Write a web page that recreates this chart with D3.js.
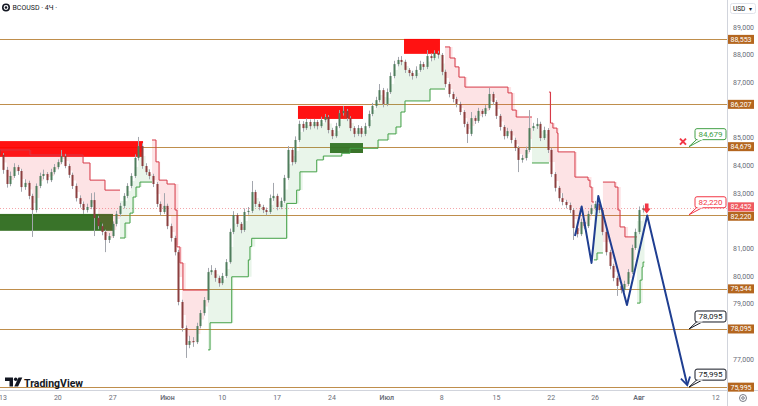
<!DOCTYPE html>
<html>
<head>
<meta charset="utf-8">
<script src="https://cdn.jsdelivr.net/npm/d3@7"></script>
<style>
html, body { margin: 0; padding: 0; background: #fff; }
svg { display: block; font-family: Roboto, "Noto Sans", "DejaVu Sans", sans-serif; }
</style>
</head>
<body>
<div id="chart"></div>
<script>
// ---- data ----
// candles: [open, high, low, close], 3 bars per trading day, first bar at day -1/3 (day 0 = 13 May)
const firstDay = -1 / 3;
const barsPerDay = 3;
const candles = [
  [84.56,84.92,84.25,84.38],[84.38,84.45,83.70,83.84],[83.84,83.95,83.20,83.33],[83.33,83.78,83.25,83.62],
  [83.62,84.08,83.55,83.94],[83.94,84.02,83.66,83.80],[83.80,83.88,83.05,83.22],[83.22,83.50,83.12,83.37],
  [83.37,83.45,82.78,82.90],[82.90,82.98,81.42,82.39],[82.39,83.35,82.30,83.26],[83.26,83.74,83.18,83.62],
  [83.62,83.85,83.50,83.69],[83.69,83.76,83.35,83.47],[83.47,83.88,83.40,83.76],[83.76,84.05,83.68,83.94],
  [83.94,84.22,83.86,84.12],[84.12,84.56,84.05,84.34],[84.34,84.42,83.90,83.98],[83.98,84.06,83.55,83.66],
  [83.66,83.74,83.15,83.26],[83.26,83.35,82.70,82.82],[82.82,82.92,82.48,82.61],[82.61,82.70,82.25,82.39],
  [82.39,82.62,82.30,82.50],[82.50,83.00,82.42,82.75],[82.75,83.03,81.45,82.10],[82.10,82.18,81.70,81.81],
  [81.81,81.90,81.48,81.60],[81.60,81.68,80.87,81.31],[81.31,81.56,81.20,81.45],[81.45,81.98,81.38,81.89],
  [81.89,82.36,81.80,82.25],[82.25,82.65,82.16,82.54],[82.54,83.00,82.45,82.90],[82.90,83.36,82.82,83.26],
  [83.26,83.72,83.18,83.62],[83.62,84.40,83.55,84.27],[84.27,85.03,84.18,84.70],[84.70,84.80,83.88,83.98],
  [83.98,84.08,83.66,83.76],[83.76,83.86,83.50,83.62],[83.62,83.70,83.22,83.33],[83.33,83.40,82.50,82.61],
  [82.61,82.70,82.20,82.32],[82.32,83.00,82.25,82.54],[82.54,82.62,81.70,81.81],[81.81,81.90,81.25,81.38],
  [81.38,81.46,80.75,80.87],[80.87,80.95,78.95,79.07],[79.07,79.15,78.00,78.13],[78.13,78.22,77.05,77.52],
  [77.52,77.85,77.40,77.66],[77.66,77.80,77.45,77.62],[77.62,78.32,77.55,78.20],[78.20,78.78,78.12,78.67],
  [78.67,79.25,78.58,79.14],[79.14,80.30,79.05,80.15],[80.15,80.40,80.05,80.22],[80.22,80.30,79.80,79.94],
  [79.94,80.02,79.62,79.75],[79.75,80.12,79.68,80.01],[80.01,80.62,79.94,80.51],[80.51,81.72,80.45,81.60],
  [81.60,82.35,81.52,82.21],[82.21,82.28,81.78,81.89],[81.89,81.96,81.55,81.67],[81.67,82.45,81.60,82.32],
  [82.32,82.50,82.22,82.36],[82.36,83.44,82.28,83.04],[83.04,83.12,82.50,82.61],[82.61,82.70,82.38,82.50],
  [82.50,82.58,82.28,82.39],[82.39,82.48,82.20,82.32],[82.32,82.95,82.25,82.82],[82.82,83.37,82.72,82.90],
  [82.90,82.98,82.38,82.50],[82.50,82.84,82.42,82.72],[82.72,83.66,82.65,83.55],[83.55,84.70,83.48,84.56],
  [84.56,84.64,84.00,84.12],[84.12,85.05,84.05,84.92],[84.92,85.62,84.85,85.50],[85.50,85.60,85.22,85.35],
  [85.35,85.70,85.28,85.57],[85.57,85.66,85.30,85.42],[85.42,85.68,85.34,85.57],[85.57,85.64,85.30,85.42],
  [85.42,85.76,85.35,85.64],[85.64,85.86,85.56,85.75],[85.75,85.82,85.16,85.28],[85.28,85.36,84.95,85.06],
  [85.06,85.54,85.00,85.42],[85.42,86.00,85.35,85.89],[85.89,86.15,85.80,85.97],[85.97,86.04,85.60,85.71],
  [85.71,85.78,85.24,85.35],[85.35,85.42,85.02,85.14],[85.14,85.46,85.06,85.35],[85.35,85.42,85.02,85.14],
  [85.14,85.54,85.06,85.42],[85.42,85.98,85.35,85.86],[85.86,86.26,85.78,86.15],[86.15,86.48,86.08,86.36],
  [86.36,86.94,86.28,86.72],[86.72,86.80,86.10,86.22],[86.22,86.78,86.14,86.65],[86.65,87.36,86.58,87.23],
  [87.23,87.78,87.15,87.66],[87.66,87.92,87.58,87.81],[87.81,87.95,87.62,87.74],[87.74,87.82,87.34,87.45],
  [87.45,87.52,87.22,87.34],[87.34,87.42,87.10,87.23],[87.23,87.58,87.15,87.45],[87.45,87.78,87.38,87.66],
  [87.66,87.74,87.45,87.56],[87.56,88.17,87.48,87.95],[87.95,88.05,87.76,87.88],[87.88,88.16,87.80,88.06],
  [88.06,88.14,87.86,87.99],[87.99,88.06,87.26,87.38],[87.38,87.46,86.82,86.94],[86.94,87.02,86.46,86.58],
  [86.58,86.66,86.28,86.40],[86.40,86.48,86.10,86.22],[86.22,86.30,85.82,85.93],[85.93,86.00,85.38,85.50],
  [85.50,85.58,84.81,85.14],[85.14,85.93,85.06,85.71],[85.71,85.80,85.50,85.61],[85.61,86.08,85.54,85.97],
  [85.97,86.04,85.74,85.86],[85.86,86.18,85.78,86.07],[86.07,86.80,86.00,86.58],[86.58,86.66,86.18,86.29],
  [86.29,86.36,85.68,85.79],[85.79,85.86,85.26,85.39],[85.39,85.46,84.94,85.06],[85.06,85.36,84.98,85.24],
  [85.24,85.30,84.80,84.92],[84.92,85.00,84.52,84.63],[84.63,84.70,83.76,84.20],[84.20,84.38,84.10,84.27],
  [84.27,84.68,84.18,84.56],[84.56,86.00,84.48,85.35],[85.35,85.54,85.25,85.42],[85.42,85.71,85.32,85.50],
  [85.50,85.58,84.88,84.99],[84.99,85.40,84.92,85.28],[85.28,85.35,84.45,84.56],[84.56,84.64,83.58,83.69],
  [83.69,83.76,83.06,83.19],[83.19,83.26,82.70,82.82],[82.82,83.00,82.56,82.68],[82.68,82.76,82.45,82.57],
  [82.57,82.66,82.28,82.39],[82.39,82.46,81.31,81.74],[81.74,81.82,81.40,81.52],[81.52,82.08,81.45,81.96],
  [81.96,82.04,81.70,81.81],[81.81,82.36,81.74,82.25],[82.25,82.58,82.18,82.46],[82.46,82.72,82.38,82.61],
  [82.61,82.68,82.28,82.39],[82.39,82.46,81.48,81.60],[81.60,81.68,80.75,80.87],[80.87,80.95,80.25,80.37],
  [80.37,80.45,79.82,79.94],[79.94,80.02,79.29,79.65],[79.65,79.72,79.38,79.50],[79.50,79.84,79.42,79.72],
  [79.72,80.26,79.65,80.15],[80.15,81.14,80.08,81.02],[81.02,81.72,80.95,81.60],[81.60,82.52,81.52,82.39],
  [82.39,82.56,82.30,82.45]
];

// trailing step line: [day, level] steps, dir 1 = below price (green), -1 = above price (red)
const trailSegments = [
  { dir: -1, end: 10.67, pts: [[-0.5,84.56],[2.46,84.38],[7.30,84.09],[7.93,83.47],[9.30,83.11]] },
  { dir: 1,  end: 13.59, pts: [[10.67,81.38],[11.13,81.92],[11.58,82.28],[11.86,82.86],[12.13,83.22],[12.49,83.40]] },
  { dir: -1, end: 18.70, pts: [[13.59,84.92],[13.95,84.13],[14.23,83.47],[14.96,83.33],[15.69,82.39],[15.87,81.06],[16.14,80.48],[16.41,79.50]] },
  { dir: 1,  end: 40.31, pts: [[18.70,77.34],[18.88,78.32],[20.86,79.98],[22.37,80.59],[22.52,81.07],[22.68,81.37],[25.87,82.63],[26.78,83.11],[27.08,83.77],[28.61,84.20],[29.21,84.34],[30.89,84.44],[31.64,84.62],[34.20,84.92],[35.11,85.14],[35.84,85.39],[36.29,85.93],[36.66,86.33],[38.94,86.76]] },
  { dir: -1, end: 48.24, pts: [[40.31,88.28],[40.76,87.88],[41.22,87.56],[41.58,87.19],[42.13,86.83],[46.05,86.62],[46.42,86.00],[46.80,85.75]] },
  { dir: 1,  end: 49.79, pts: [[48.24,84.09]] },
  { dir: -1, end: 53.89, pts: [[49.79,86.65],[49.93,85.53],[50.15,85.35],[50.52,85.17],[50.61,84.49],[52.16,83.58],[53.35,83.47],[53.53,83.22],[53.71,82.68]] },
  { dir: 1,  end: 54.71, pts: [[53.89,80.59],[54.17,80.84]] },
  { dir: -1, end: 57.82, pts: [[54.71,83.40],[55.81,83.22],[56.08,82.39],[56.27,81.78],[56.72,81.42]] },
  { dir: 1,  end: 58.50, pts: [[57.82,79.03],[58.10,79.86],[58.28,80.33],[58.37,80.51]] }
];

// supply / demand boxes: [dayFrom, dayTo, top, bottom]
const supplyZones = [[-0.5,12.77,84.88,84.31],[26.90,32.83,86.15,85.68],[36.57,39.85,88.57,88.03]];
const demandZones = [[-0.5,10.03,82.25,81.64],[29.82,32.83,84.81,84.45]];

const levels = [88.553, 86.207, 84.679, 82.220, 79.544, 78.095, 75.995];
const lastPrice = 82.452;

// projected path
const zigzag = [[52.16,81.45],[52.77,82.52],[53.67,80.48],[54.29,82.90],[56.90,78.96],[58.75,82.19],[62.40,76.07]];

const callouts = [
  { day: 62.56, value: 84.679, text: "84,679", color: "#43a047" },
  { day: 62.56, value: 82.220, text: "82,220", color: "#f23645" },
  { day: 62.56, value: 78.095, text: "78,095", color: "#131722" },
  { day: 62.56, value: 75.995, text: "75,995", color: "#131722" }
];
const crossMark = [62.01, 84.86];

const priceTicks = [89, 88, 87, 86, 85, 84, 83, 82, 81, 80, 79, 78, 77, 76];
const dayTicks = [0, 5, 10, 15, 20, 25, 30, 35, 40, 45, 50, 54, 58, 65];
const dayLabels = ["13", "20", "27", "Июн", "10", "17", "24", "Июл", "8", "15", "22", "26", "Авг", "12"];
const monthLabels = ["Июн", "Июл", "Авг"];

// ---- layout ----
const W = 758, H = 406;
const plotW = 727, plotH = 390;

const svg = d3.select("#chart").append("svg")
    .attr("width", W)
    .attr("height", H);

const x = d3.scaleLinear().domain([0, 58]).range([3, 639]);
const y = d3.scaleLinear().domain([76, 89]).range([387, 27]);

const fmt = v => v.toFixed(3).replace(".", ",");

svg.append("clipPath").attr("id", "plotClip")
    .append("rect").attr("width", plotW).attr("height", plotH);

const plot = svg.append("g").attr("clip-path", "url(#plotClip)");

const bars = candles.map((d, i) => ({ t: firstDay + i / barsPerDay, o: d[0], h: d[1], l: d[2], c: d[3] }));

// horizontal levels
plot.selectAll(".level").data(levels).enter().append("line")
    .attr("x1", 0).attr("x2", plotW)
    .attr("y1", d => Math.round(y(d)) + 0.5).attr("y2", d => Math.round(y(d)) + 0.5)
    .attr("stroke", "#bf8e4c").attr("stroke-width", 1);

// last price dotted line
plot.append("line")
    .attr("x1", 0).attr("x2", plotW)
    .attr("y1", Math.round(y(lastPrice)) + 0.5).attr("y2", Math.round(y(lastPrice)) + 0.5)
    .attr("stroke", "#f4a6aa").attr("stroke-width", 1).attr("stroke-dasharray", "1,2");

// zones
plot.selectAll(".supply").data(supplyZones).enter().append("rect")
    .attr("x", d => x(d[0])).attr("width", d => x(d[1]) - x(d[0]))
    .attr("y", d => y(d[2])).attr("height", d => y(d[3]) - y(d[2]))
    .attr("fill", "#ff0000").attr("opacity", 0.93);

plot.selectAll(".demand").data(demandZones).enter().append("rect")
    .attr("x", d => x(d[0])).attr("width", d => x(d[1]) - x(d[0]))
    .attr("y", d => y(d[2])).attr("height", d => y(d[3]) - y(d[2]))
    .attr("fill", "#2e6b1e").attr("opacity", 0.95);

// trail fills and lines
function levelAt(seg, t) {
    let v = seg.pts[0][1];
    seg.pts.forEach(p => { if (p[0] <= t) v = p[1]; });
    return v;
}

const fillArea = d3.area()
    .x(d => x(d.t)).y0(d => y(d.lv)).y1(d => y(d.mid))
    .curve(d3.curveStepAfter);

const stepLine = d3.line()
    .x(d => x(d[0])).y(d => y(d[1]))
    .curve(d3.curveStepAfter);

trailSegments.forEach(seg => {
    const t0 = seg.pts[0][0];
    const inside = bars.filter(b => b.t >= t0 && b.t <= seg.end);
    if (inside.length) {
        const rows = inside.map(b => ({ t: b.t, lv: levelAt(seg, b.t), mid: (b.o + b.c) / 2 }));
        rows.unshift({ t: t0, lv: seg.pts[0][1], mid: rows[0].mid });
        rows.push({ t: seg.end, lv: levelAt(seg, seg.end), mid: rows[rows.length - 1].mid });
        plot.append("path")
            .attr("d", fillArea(rows))
            .attr("fill", seg.dir < 0 ? "rgba(242,54,69,0.14)" : "rgba(76,175,80,0.12)");
    }
    const pts = seg.pts.concat([[seg.end, seg.pts[seg.pts.length - 1][1]]]);
    plot.append("path")
        .attr("d", stepLine(pts))
        .attr("fill", "none")
        .attr("stroke", seg.dir < 0 ? "#d63a48" : "#43a047")
        .attr("stroke-width", 1);
});

// candles
const cg = plot.append("g");
cg.selectAll(".wick").data(bars).enter().append("line")
    .attr("x1", d => Math.round(x(d.t)) + 0.5).attr("x2", d => Math.round(x(d.t)) + 0.5)
    .attr("y1", d => y(d.h)).attr("y2", d => y(d.l))
    .attr("stroke", "#a3a6ad").attr("stroke-width", 1);
cg.selectAll(".body").data(bars).enter().append("rect")
    .attr("x", d => Math.round(x(d.t)) - 0.5)
    .attr("width", 2)
    .attr("y", d => y(Math.max(d.o, d.c)))
    .attr("height", d => Math.max(1, Math.abs(y(d.o) - y(d.c))))
    .attr("fill", d => d.c >= d.o ? "#4f7d5c" : "#8b3f3f");

// projected zigzag
plot.append("path")
    .attr("d", d3.line().x(d => x(d[0])).y(d => y(d[1]))(zigzag))
    .attr("fill", "none").attr("stroke", "#1f3e91").attr("stroke-width", 2)
    .attr("stroke-linejoin", "round");

// arrow head at the end of the zigzag
const tip = zigzag[zigzag.length - 1], prev = zigzag[zigzag.length - 2];
const ang = Math.atan2(y(tip[1]) - y(prev[1]), x(tip[0]) - x(prev[0]));
const hx = x(tip[0]), hy = y(tip[1]);
const headLen = 9;
plot.append("path")
    .attr("d", `M${hx + headLen * Math.cos(ang + Math.PI - 0.55)},${hy + headLen * Math.sin(ang + Math.PI - 0.55)} L${hx},${hy} L${hx + headLen * Math.cos(ang + Math.PI + 0.55)},${hy + headLen * Math.sin(ang + Math.PI + 0.55)}`)
    .attr("fill", "none").attr("stroke", "#1f3e91").attr("stroke-width", 1.8);

// red sell arrow above the last peak
const peak = zigzag[zigzag.length - 2];
const ax = x(peak[0]) - 0.5, ay = y(peak[1]) - 12;
plot.append("path")
    .attr("d", `M${ax - 1.8},${ay} h3.6 v5 h2.2 L${ax},${ay + 10} L${ax - 4},${ay + 5} h2.2 z`)
    .attr("fill", "#f23645");

// cross mark
const cx0 = x(crossMark[0]), cy0 = y(crossMark[1]);
plot.append("path")
    .attr("d", `M${cx0 - 3},${cy0 - 3} L${cx0 + 3},${cy0 + 3} M${cx0 + 3},${cy0 - 3} L${cx0 - 3},${cy0 + 3}`)
    .attr("stroke", "#f23645").attr("stroke-width", 2);

// callouts
callouts.forEach(c => {
    const px = x(c.day), py = y(c.value);
    const bx = px + 6, by = py - 18, bw = 31, bh = 11;
    const g = svg.append("g");
    g.append("path")
        .attr("d", `M${bx + 2},${by + bh - 0.5} L${px},${py} L${bx + 8},${by + bh - 0.5}`)
        .attr("fill", "#fff").attr("stroke", c.color).attr("stroke-width", 1);
    g.append("rect")
        .attr("x", bx).attr("y", by).attr("width", bw).attr("height", bh)
        .attr("rx", 2).attr("fill", "#fff").attr("stroke", c.color).attr("stroke-width", 1);
    g.append("line")
        .attr("x1", bx + 2.5).attr("x2", bx + 7.5)
        .attr("y1", by + bh).attr("y2", by + bh)
        .attr("stroke", "#fff").attr("stroke-width", 1.2);
    g.append("text")
        .attr("x", bx + bw / 2).attr("y", by + 8.3)
        .attr("text-anchor", "middle")
        .attr("font-size", 8).attr("fill", c.color)
        .text(c.text);
});

// ---- axes ----
svg.append("line")
    .attr("x1", plotW + 0.5).attr("x2", plotW + 0.5).attr("y1", 0).attr("y2", H)
    .attr("stroke", "#d1d4dc");
svg.append("line")
    .attr("x1", 0).attr("x2", W).attr("y1", plotH + 0.5).attr("y2", plotH + 0.5)
    .attr("stroke", "#d1d4dc");

// price ticks (the ones covered by a level label are left out, as on the price scale)
const labelled = levels.concat([lastPrice]);
const visibleTicks = priceTicks.filter(t => labelled.every(v => Math.abs(y(t) - y(v)) > 8));
svg.selectAll(".ptick").data(visibleTicks).enter().append("text")
    .attr("x", 733).attr("y", d => y(d) + 2.5)
    .attr("font-size", 7).attr("fill", "#6a6d78")
    .text(d => fmt(d));

// level labels on the price axis
function axisLabel(v, yy, bg) {
    svg.append("rect")
        .attr("x", 728).attr("y", yy - 4.5).attr("width", 26).attr("height", 9)
        .attr("fill", bg);
    svg.append("text")
        .attr("x", 741).attr("y", yy + 2.5).attr("text-anchor", "middle")
        .attr("font-size", 7).attr("fill", "#fff")
        .text(fmt(v));
}
levels.forEach(v => {
    let yy = y(v);
    if (v === 82.220) yy += 1.5;
    axisLabel(v, yy, "#b4661f");
});
axisLabel(lastPrice, y(lastPrice) - 1.5, "#ef5a60");

// date ticks
svg.selectAll(".dtick").data(dayTicks).enter().append("text")
    .attr("x", d => x(d)).attr("y", 400)
    .attr("text-anchor", "middle")
    .attr("font-size", 7)
    .attr("font-weight", (d, i) => monthLabels.includes(dayLabels[i]) ? 600 : 400)
    .attr("fill", "#6a6d78")
    .text((d, i) => dayLabels[i]);

// settings icon
svg.append("circle").attr("cx", 743).attr("cy", 398).attr("r", 3.5)
    .attr("fill", "none").attr("stroke", "#6a6d78").attr("stroke-width", 0.9);
svg.append("circle").attr("cx", 743).attr("cy", 398).attr("r", 1.3)
    .attr("fill", "none").attr("stroke", "#6a6d78").attr("stroke-width", 0.9);

// currency box
svg.append("rect").attr("x", 730.5).attr("y", 3.5).attr("width", 25).attr("height", 10)
    .attr("rx", 2).attr("fill", "#fff").attr("stroke", "#e0e3eb");
svg.append("text").attr("x", 733).attr("y", 11).attr("font-size", 6.5).attr("fill", "#131722").text("USD");
svg.append("text").attr("x", 749).attr("y", 11).attr("font-size", 6).attr("fill", "#131722").text("▾");

// symbol legend
svg.append("circle").attr("cx", 6).attr("cy", 7.5).attr("r", 4).attr("fill", "#131722");
svg.append("circle").attr("cx", 6).attr("cy", 7.5).attr("r", 1.9)
    .attr("fill", "none").attr("stroke", "#fff").attr("stroke-width", 1.1);
svg.append("text").attr("x", 12.5).attr("y", 10).attr("font-size", 7).attr("fill", "#131722")
    .text("BCOUSD · 4Ч ·");

// TradingView logo
const logo = svg.append("g").attr("fill", "#131722");
logo.append("path").attr("d", "M5,377.5 h8 v9 h-3.5 v-5.5 h-4.5 z");
logo.append("circle").attr("cx", 15.7).attr("cy", 379.3).attr("r", 1.8);
logo.append("path").attr("d", "M18.5,377.5 h3.8 l-4.2,9 h-3.8 z");
svg.append("text").attr("x", 24).attr("y", 386.5)
    .attr("font-size", 10.5).attr("font-weight", 700).attr("fill", "#131722")
    .text("TradingView");
</script>
</body>
</html>
